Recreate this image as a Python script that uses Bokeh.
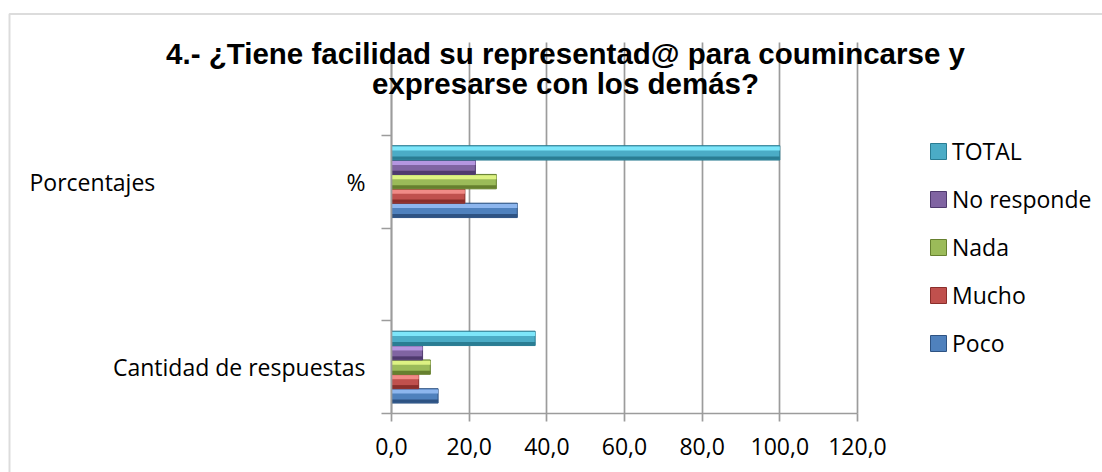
import numpy as np
from bokeh.plotting import figure
from bokeh.models import FixedTicker, Legend, LegendItem, Label, BoxAnnotation, Grid
from bokeh.embed import file_html
from bokeh.resources import INLINE

# ---- data ----
categories = ["Cantidad de respuestas", "Porcentajes" + "\u00a0" * 32 + "%"]
series = ["Poco", "Mucho", "Nada", "No responde", "TOTAL"]
cantidad = [12, 7, 10, 8, 37]
porcentajes = [32.4, 18.9, 27.0, 21.6, 100.0]
x_ticks = [0, 20, 40, 60, 80, 100, 120]
x_tick_labels = ["0,0", "20,0", "40,0", "60,0", "80,0", "100,0", "120,0"]
title_lines = ["4.- ¿Tiene facilidad su representad@ para coumincarse y",
               "expresarse con los demás?"]

# ---- styles / layout ----
base = ["#4F81BD", "#C0504D", "#9BBB59", "#8064A2", "#4BACC6"]
light = ["#8DB6EE", "#F08A86", "#DDF283", "#B596E0", "#7DE6FA"]
dark = ["#2E5383", "#8A2E2B", "#66802F", "#4F3A6E", "#2A7D93"]
cat_pos = [0.5, 2.5]
cat_bounds = (0, 4)
offsets = [-0.31, -0.155, 0.0, 0.155, 0.31]
bar_h = 0.155
FONT = "Open Sans"
GRID = "#9c9c9c"
W, H = 1102, 472
# pixel anchors of the plot area
PX_X0, PX_X1, PX_Y0, PX_Y4 = 391, 857, 413, 42
kx = (PX_X1 - PX_X0) / (x_ticks[-1] - x_ticks[0])
ky = (PX_Y0 - PX_Y4) / (cat_bounds[1] - cat_bounds[0])
def xd(px):
    return (px - PX_X0) / kx
def yd(py):
    return (PX_Y0 - py) / ky

p = figure(width=W, height=H, output_backend="svg", toolbar_location=None,
           x_range=(xd(0), xd(W)), y_range=(yd(H), yd(0)),
           min_border=0, min_border_left=0, min_border_right=0,
           min_border_top=0, min_border_bottom=0)
p.outline_line_color = None
p.background_fill_color = "white"
p.border_fill_color = "white"
p.xgrid.grid_line_color = None
p.ygrid.grid_line_color = None

# vertical grid lines (bounded to the plot area)
if "cross_bounds" in Grid.properties():
    p.xgrid.ticker = FixedTicker(ticks=x_ticks)
    p.xgrid.bounds = (x_ticks[0], x_ticks[-1])
    p.xgrid.cross_bounds = cat_bounds
    p.xgrid.grid_line_color = GRID
    p.xgrid.grid_line_width = 1.7
else:
    p.segment(x0=x_ticks[1:], y0=cat_bounds[0], x1=x_ticks[1:], y1=cat_bounds[1],
              line_color=GRID, line_width=1.7, level="underlay")

# x axis
xa = p.xaxis[0]
xa.fixed_location = 0
xa.bounds = (x_ticks[0], x_ticks[-1])
xa.ticker = FixedTicker(ticks=x_ticks)
xa.major_label_overrides = {t: l for t, l in zip(x_ticks, x_tick_labels)}
xa.axis_line_color = GRID
xa.axis_line_width = 1.7
xa.major_tick_line_color = GRID
xa.major_tick_line_width = 1.7
xa.major_tick_out = 8
xa.major_tick_in = 0
xa.minor_tick_line_color = None
xa.major_label_text_font = FONT
xa.major_label_text_font_size = "23px"
xa.major_label_text_color = "#000000"
xa.major_label_standoff = 16

# y axis
ya = p.yaxis[0]
ya.fixed_location = 0
ya.bounds = cat_bounds
ya.ticker = FixedTicker(ticks=cat_pos, minor_ticks=[0, 1, 2, 3])
ya.major_label_overrides = {c: l for c, l in zip(cat_pos, categories)}
ya.axis_line_color = GRID
ya.axis_line_width = 1.7
ya.major_tick_line_color = None
ya.major_tick_out = 0
ya.major_tick_in = 0
ya.minor_tick_line_color = GRID
ya.minor_tick_line_width = 1.7
ya.minor_tick_out = 10
ya.minor_tick_in = 0
ya.major_label_text_font = FONT
ya.major_label_text_font_size = "23px"
ya.major_label_text_color = "#000000"
ya.major_label_standoff = 16

# bars
renderers = []
for i, name in enumerate(series):
    ys = np.array(cat_pos) + offsets[i]
    vals = [cantidad[i], porcentajes[i]]
    r = p.hbar(y=ys, right=vals, left=0, height=bar_h, fill_color=base[i],
               line_color=dark[i], line_width=1)
    p.hbar(y=ys + bar_h * 0.3, right=vals, left=0, height=bar_h * 0.28,
           fill_color=light[i], line_color=None)
    p.hbar(y=ys - bar_h * 0.36, right=vals, left=0, height=bar_h * 0.22,
           fill_color=dark[i], line_color=None)
    renderers.append(r)

items = [LegendItem(label=series[i], renderers=[renderers[i]]) for i in reversed(range(len(series)))]
legend = Legend(items=items, location=(928, H - 367), padding=0, margin=0,
                glyph_width=20, glyph_height=20, label_height=48, spacing=0,
                label_standoff=4, border_line_color=None, background_fill_alpha=0,
                label_text_font=FONT, label_text_font_size="23px",
                label_text_color="#000000")
p.add_layout(legend, "center")

# title (two centred lines)
for k, t in enumerate(title_lines):
    p.add_layout(Label(x=565, y=H - 53 - 30 * k, x_units="screen", y_units="screen",
                       text=t, text_align="center", text_baseline="alphabetic",
                       text_font="Liberation Sans", text_font_style="bold",
                       text_font_size="29.5px", text_color="#000000"))

# chart frame (left and top edges visible)
p.add_layout(BoxAnnotation(left=xd(9), right=xd(W + 30), top=yd(13.5), bottom=yd(H + 30),
                           fill_alpha=0, line_color="#8c8c8c", line_width=2))

open("out.html", "w").write(file_html(p, INLINE))
